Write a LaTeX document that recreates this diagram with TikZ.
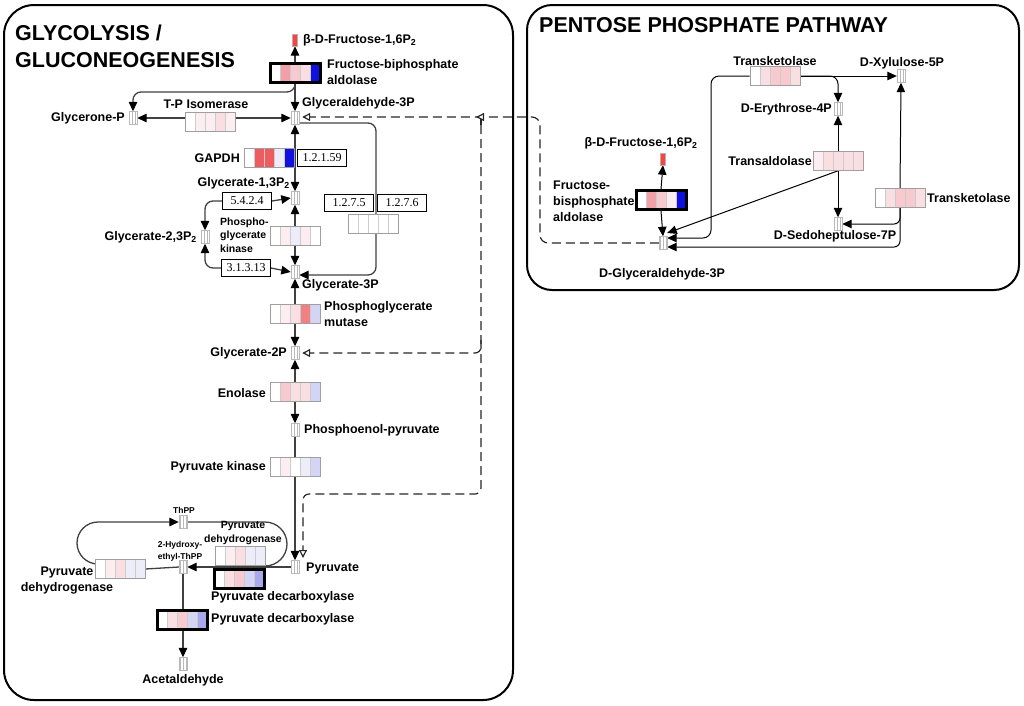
\documentclass[tikz,border=0pt]{standalone}
\usepackage{fontspec}
\setmainfont{Liberation Sans}
\newfontfamily\ecfont{Liberation Serif}
\usetikzlibrary{arrows.meta,calc,patterns,backgrounds}

% expression shades
\definecolor{p1}{HTML}{FCEEF0}
\definecolor{p2}{HTML}{FADFE2}
\definecolor{p3}{HTML}{F6CACE}
\definecolor{p4}{HTML}{F0A0A6}
\definecolor{rr}{HTML}{EE5C62}
\definecolor{rr2}{HTML}{F08084}
\definecolor{b1}{HTML}{EDEDFA}
\definecolor{b2}{HTML}{D4D4F4}
\definecolor{b3}{HTML}{A8A8EA}
\definecolor{bb}{HTML}{1010E0}

% gene box: five coloured cells, outline node on top
\newcommand{\gene}[4][gbox]{%
  \foreach \col [count=\i from 0] in {#4}
    \filldraw[fill=\col, draw=gray!40, line width=0.4] ($(#3)+(\i*10-25,-9.5)$) rectangle ++(10,19);
  \node[#1] (#2) at (#3) {};
}

\begin{document}
\begin{tikzpicture}[x=1pt, y=1pt, >={Triangle[length=9.5pt,width=8.5pt,color=black]},
  cpd/.style={draw=gray!55, minimum width=8, minimum height=13, inner sep=0,
    pattern=vertical lines, pattern color=gray!55},
  redcpd/.style={draw=gray!60, fill=red!75, minimum width=5, minimum height=12, inner sep=0},
  gbox/.style={draw=gray!75, line width=0.6, minimum width=50, minimum height=19, inner sep=0},
  gthick/.style={draw=black, line width=3, minimum width=50, minimum height=19, inner sep=0},
  ec/.style={draw, fill=white, line width=1, minimum width=49, minimum height=17, inner sep=0,
    font=\ecfont\fontsize{12}{12}\selectfont},
  lbl/.style={font=\fontsize{12.5}{16}\selectfont\bfseries, inner sep=1},
  lblm/.style={font=\fontsize{10.5}{13.5}\selectfont\bfseries, inner sep=1, align=left},
  lbls/.style={font=\fontsize{8.5}{12}\selectfont\bfseries, inner sep=0, align=center},
  ttl/.style={font=\fontsize{21.5}{25}\selectfont\bfseries, inner sep=0},
  rxn/.style={draw=black!75, line width=1.3},
  rxnp/.style={draw=black, line width=1},
  dsh/.style={draw=black!85, line width=1.2, dash pattern=on 9pt off 5pt},
  otip/.style={-{Triangle[open,length=8pt,width=8pt,fill=white]}},
  frame/.style={draw=black, line width=2}]

  \useasboundingbox (0,0) rectangle (1024,-705);

  % Titles
  \node[ttl, anchor=base west] (ttlA) at (15,-40) {GLYCOLYSIS /};
  \node[ttl, anchor=base west] (ttlB) at (15,-67) {GLUCONEOGENESIS};
  \node[ttl, anchor=base west] (ttlC) at (539,-32) {PENTOSE PHOSPHATE PATHWAY};

  % Glycolysis compounds
  \node[redcpd] (bfru) at (295,-40) {};
  \node[cpd] (g3p) at (295,-118) {};
  \node[cpd] (gnp) at (133,-118) {};
  \node[cpd] (g13) at (295,-198) {};
  \node[cpd] (g23) at (205,-237) {};
  \node[cpd] (g3pa) at (295,-272) {};
  \node[cpd] (g2p) at (295,-353) {};
  \node[cpd] (pep) at (295,-430) {};
  \node[cpd] (pyr) at (295,-567) {};
  \node[cpd] (hthpp) at (183,-567) {};
  \node[cpd] (thpp) at (183,-522) {};
  \node[cpd] (acald) at (183,-664) {};

  % Glycolysis genes
  \gene[gthick]{aldo}{295,-73}{white,p4,p3,p2,bb}
  \gene{tpi}{210,-122}{white,p1,p1,p2,p1}
  \gene{gapdh}{269,-158}{white,rr,rr,b1,bb}
  \gene{pgk}{295,-236}{white,p1,b1,p1,white}
  \gene{gapor}{373,-224}{white,white,white,white,white}
  \gene{pgm}{295,-314}{white,p1,p2,rr2,b2}
  \gene{eno}{295,-392}{white,p3,p2,p2,b2}
  \gene{pk}{295,-467}{white,p1,white,b1,b2}
  \gene{pdhA}{120,-569}{white,p1,p2,b1,b1}
  \gene{pdhB}{240,-556}{white,p1,p2,b1,b1}
  \gene[gthick]{pdcA}{239,-579}{white,p2,p3,b2,b3}
  \gene[gthick]{pdcB}{182,-620}{white,p2,p3,b2,b3}

  % EC numbers
  \node[ec] (ec12159) at (322,-158) {1.2.1.59};
  \node[ec] (ec5424) at (247,-201) {5.4.2.4};
  \node[ec] (ec31313) at (246,-268) {3.1.3.13};
  \node[ec] (ec1275) at (349,-203) {1.2.7.5};
  \node[ec] (ec1276) at (402,-203) {1.2.7.6};

  % Glycolysis labels
  \node[lbl, anchor=west] (bfruL) at (302,-40) {β-D-Fructose-1,6P\textsubscript{2}};
  \node[lbl, anchor=west, align=left] (aldoL) at (326,-72) {Fructose-biphosphate\\aldolase};
  \node[lbl, anchor=west] (g3pL) at (301,-103) {Glyceraldehyde-3P};
  \node[lbl, anchor=east] (gnpL) at (126,-118) {Glycerone-P};
  \node[lbl] (tpiL) at (206,-104) {T-P Isomerase};
  \node[lbl, anchor=east] (gapdhL) at (241,-158) {GAPDH};
  \node[lbl, anchor=east] (g13L) at (291,-183) {Glycerate-1,3P\textsubscript{2}};
  \node[lblm, anchor=west] (pgkL) at (219,-235) {Phospho-\\glycerate\\kinase};
  \node[lbl, anchor=east] (g23L) at (198,-237) {Glycerate-2,3P\textsubscript{2}};
  \node[lbl, anchor=west] (g3paL) at (301,-285) {Glycerate-3P};
  \node[lbl, anchor=west, align=left] (pgmL) at (323,-314) {Phosphoglycerate\\mutase};
  \node[lbl, anchor=east] (g2pL) at (288,-353) {Glycerate-2P};
  \node[lbl, anchor=east] (enoL) at (267,-393) {Enolase};
  \node[lbl, anchor=west] (pepL) at (303,-430) {Phosphoenol-pyruvate};
  \node[lbl, anchor=east] (pkL) at (267,-467) {Pyruvate kinase};
  \node[lbl, anchor=west] (pyrL) at (305,-568) {Pyruvate};
  \node[lbl, align=center] (pdhAL) at (67,-581) {Pyruvate\\dehydrogenase};
  \node[lblm, align=center] (pdhBL) at (243,-533) {Pyruvate\\dehydrogenase};
  \node[lbl, anchor=west] (pdcAL) at (210,-597) {Pyruvate decarboxylase};
  \node[lbl, anchor=west] (pdcBL) at (210,-619) {Pyruvate decarboxylase};
  \node[lbls] (thppL) at (184,-510) {ThPP};
  \node[lbls] (hthppL) at (180,-551) {2-Hydroxy-\\ethyl-ThPP};
  \node[lbl] (acaldL) at (183,-680) {Acetaldehyde};

  % Pentose phosphate compounds
  \node[redcpd] (bfruP) at (663,-159) {};
  \node[cpd] (dg3p) at (663,-243) {};
  \node[cpd] (dxyl) at (901,-76) {};
  \node[cpd] (de4p) at (838,-109) {};
  \node[cpd] (dsed) at (838,-224) {};

  % Pentose phosphate genes
  \gene[gthick]{aldoP}{661,-200}{white,p4,p3,p1,bb}
  \gene{tktA}{775,-76}{white,p2,p3,p3,p2}
  \gene{tal}{838,-161}{p1,p2,p2,p2,p2}
  \gene{tktB}{900,-198}{white,p2,p3,p3,p2}

  % Pentose phosphate labels
  \node[lbl] (tktAL) at (775,-61) {Transketolase};
  \node[lbl] (dxylL) at (902,-63) {D-Xylulose-5P};
  \node[lbl, anchor=east] (de4pL) at (833,-109) {D-Erythrose-4P};
  \node[lbl] (bfruPL) at (641,-143) {β-D-Fructose-1,6P\textsubscript{2}};
  \node[lbl, anchor=east] (talL) at (813,-161) {Transaldolase};
  \node[lbl, anchor=west, align=left] (aldoPL) at (552,-201) {Fructose-\\bisphosphate\\aldolase};
  \node[lbl, anchor=west] (tktBL) at (926,-198) {Transketolase};
  \node[lbl] (dsedL) at (835,-236) {D-Sedoheptulose-7P};
  \node[lbl] (dg3pL) at (662,-274) {D-Glyceraldehyde-3P};

  \begin{scope}[on background layer]
    % Frames
    \draw[frame, rounded corners=30] (4,-5) rectangle (513,-700);
    \draw[frame, rounded corners=25] (527,-5) rectangle (1019,-290);

    % Glycolysis reactions
    \draw[rxn, ->] (aldo.north) -- (bfru.south);
    \draw[rxn, ->] (aldo.south) -- (g3p.north);
    \coordinate (gnpbend) at (133,-92);
    \draw[rxn, ->, rounded corners=8] (aldo.south) |- (gnpbend) -- (gnp.north);
    \draw[rxn, <->] (gnp.east) -- (g3p.west);
    \draw[rxn, <->] (g3p.south) -- (g13.north);
    \draw[rxn, ->] (ec5424.east) -- (g13.west);
    \draw[rxn, ->, rounded corners=8] (ec5424.west) -| (g23.north);
    \draw[rxn, ->, rounded corners=8] (ec31313.west) -| (g23.south);
    \draw[rxn, ->] (ec31313.east) -- (g3pa.west);
    \draw[rxn, <->] (g13.south) -- (g3pa.north);
    \coordinate (gaporbend) at (376,-275);
    \draw[rxn, ->, rounded corners=8] ([yshift=-5]g3p.east) -| (gaporbend) -- ([yshift=-3]g3pa.east);
    \draw[rxn, <->] (g3pa.south) -- (g2p.north);
    \draw[rxn, <->] (g2p.south) -- (pep.north);
    \draw[rxn, ->] (pep.south) -- (pyr.north);

    % Pyruvate to acetaldehyde
    \draw[rxn, ->] (pyr.west) -- (hthpp.east);
    \draw[rxn] (hthpp.west) -- (pdhA.east);
    \draw[rxn, ->] (hthpp.south) -- (acald.north);
    \coordinate (loopA) at (98,-564);
    \coordinate (loopB) at (265,-522);
    \draw[rxn, ->] (loopA) arc[start angle=270, end angle=90, radius=21] -- (thpp.west);
    \draw[rxn] (thpp.east) -- (loopB) arc[start angle=90, end angle=-90, radius=22];

    % Links to the pentose phosphate pathway
    \coordinate (dshtop) at (481,-125);
    \coordinate (dshbot) at (481,-494);
    \coordinate (pyrin) at (303,-558);
    \draw[dsh, otip, rounded corners=8] (dg3p.west) -| (540,-117) -- ([xshift=3]g3p.east |- 0,-117);
    \draw[dsh, otip] (dshtop) |- (476,-117);
    \draw[dsh, otip, rounded corners=6] (dshtop) |- ([xshift=3]g2p.east);
    \draw[dsh, otip, rounded corners=6] (481,-340) -- (dshbot) -| (pyrin);

    % Pentose phosphate reactions
    \draw[rxnp, ->] (aldoP.north) -- (bfruP.south);
    \draw[rxnp, ->] (aldoP.south) -- (dg3p.north);
    \draw[rxnp, ->, rounded corners=8] (tktA.west) -| (711,-238) -- ([yshift=5]dg3p.east);
    \draw[rxnp, ->] (tktA.east) -- (dxyl.west);
    \draw[rxnp, ->, rounded corners=8] (tktA.east) -| (de4p.north);
    \draw[rxnp, ->] (tal.north) -- (de4p.south);
    \draw[rxnp, ->] (tal.south) -- (dsed.north);
    \draw[rxnp, ->] (tal.south) -- ([yshift=10]dg3p.east);
    \draw[rxnp, ->] (tktB.north) -- (dxyl.south);
    \draw[rxnp, ->, rounded corners=6] (tktB.south) |- (dsed.east);
    \draw[rxnp, ->, rounded corners=6] (tktB.south) |- ([yshift=-4]dg3p.east);
  \end{scope}
\end{tikzpicture}
\end{document}
